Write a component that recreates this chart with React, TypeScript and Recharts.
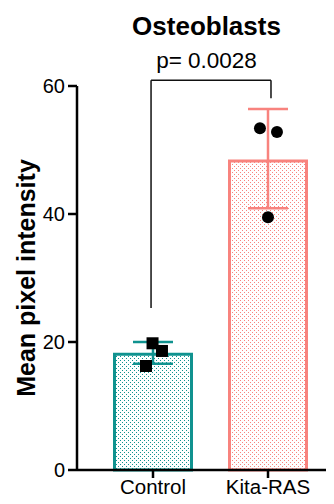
import React from 'react';
import {
  ComposedChart,
  Bar,
  ErrorBar,
  Scatter,
  XAxis,
  YAxis,
  ReferenceLine
} from 'recharts';

// Group names and bar heights (mean ± SD)
const groups = ['Control', 'Kita-RAS'];
const means = [18.1, 48.3];
const errLow = [1.5, 7.4];
const errHigh = [1.9, 8.1];

// Individual replicates (x is the jitter position on a 0..2 scale)
const controlPoints = [
  { x: 0.496, y: 19.8 },
  { x: 0.578, y: 18.6 },
  { x: 0.439, y: 16.25 }
];
const kitaPoints = [
  { x: 1.43, y: 53.4 },
  { x: 1.578, y: 52.8 },
  { x: 1.5, y: 39.5 }
];

const yTicks = [0, 20, 40, 60];

// Significance bracket
const bracketX = [0.483, 1.526];
const bracketTop = 60.9;
const bracketLegs = [25.3, 58.1];
const pLabel = 'p= 0.0028';

const TEAL = '#10928f';
const SALMON = '#f8837e';
const FONT = '"Liberation Sans", Arial, sans-serif';

const rows = groups.map((name, i) => ({
  name,
  control: i === 0 ? means[i] : undefined,
  controlErr: i === 0 ? [errLow[i], errHigh[i]] : undefined,
  kita: i === 1 ? means[i] : undefined,
  kitaErr: i === 1 ? [errLow[i], errHigh[i]] : undefined
}));

const pad = { left: 18.5, right: 8.5 };

const SquareDot = (props: any) => (
  <rect x={props.cx - 6} y={props.cy - 6} width={12} height={12} fill="#000" />
);
const RoundDot = (props: any) => (
  <circle cx={props.cx} cy={props.cy} r={6} fill="#000" />
);

const App: React.FC = () => {
  return (
    <div style={{ position: 'relative', width: 334, height: 504, margin: -8, fontFamily: FONT }}>
      <ComposedChart
        width={334}
        height={504}
        data={rows}
        margin={{ top: 86, right: 0, bottom: 0, left: 0 }}
      >
        <defs>
          <pattern id="dotsTeal" patternUnits="userSpaceOnUse" width="4" height="4">
            <rect width="4" height="4" fill="#fff" />
            <rect x="0" y="0" width="1" height="1" fill={TEAL} />
            <rect x="2" y="2" width="1" height="1" fill={TEAL} />
          </pattern>
          <pattern id="dotsSalmon" patternUnits="userSpaceOnUse" width="4" height="4">
            <rect width="4" height="4" fill="#fff" />
            <rect x="0" y="0" width="1" height="1" fill={SALMON} />
            <rect x="2" y="2" width="1" height="1" fill={SALMON} />
          </pattern>
        </defs>
        <XAxis
          xAxisId="cat"
          dataKey="name"
          type="category"
          padding={pad}
          height={34}
          axisLine={{ stroke: '#000', strokeWidth: 2.5 }}
          tickLine={{ stroke: '#000', strokeWidth: 2.5 }}
          tickSize={8}
          tickMargin={1}
          tick={{ fill: '#000', fontSize: 20.5, fontFamily: FONT }}
        />
        <XAxis
          xAxisId="num"
          dataKey="x"
          type="number"
          domain={[0, 2]}
          padding={pad}
          hide
        />
        <YAxis
          type="number"
          domain={[0, 60]}
          ticks={yTicks}
          width={77}
          axisLine={{ stroke: '#000', strokeWidth: 2.5 }}
          tickLine={{ stroke: '#000', strokeWidth: 2.5 }}
          tickSize={9}
          tickMargin={3}
          tick={{ fill: '#000', fontSize: 20, fontFamily: FONT }}
        />
        <Bar
          xAxisId="cat"
          dataKey="control"
          stackId="s"
          barSize={77}
          fill="url(#dotsTeal)"
          stroke={TEAL}
          strokeWidth={3}
          isAnimationActive={false}
        >
          <ErrorBar dataKey="controlErr" width={20} stroke={TEAL} strokeWidth={2.5} />
        </Bar>
        <Bar
          xAxisId="cat"
          dataKey="kita"
          stackId="s"
          barSize={77}
          fill="url(#dotsSalmon)"
          stroke={SALMON}
          strokeWidth={3}
          isAnimationActive={false}
        >
          <ErrorBar dataKey="kitaErr" width={20} stroke={SALMON} strokeWidth={2.5} />
        </Bar>
        <Scatter
          xAxisId="num"
          data={controlPoints}
          dataKey="y"
          shape={SquareDot}
          isAnimationActive={false}
        />
        <Scatter
          xAxisId="num"
          data={kitaPoints}
          dataKey="y"
          shape={RoundDot}
          isAnimationActive={false}
        />
        <ReferenceLine
          xAxisId="num"
          ifOverflow="visible"
          stroke="#111"
          strokeWidth={1.5}
          segment={[{ x: bracketX[0], y: bracketLegs[0] }, { x: bracketX[0], y: bracketTop }]}
        />
        <ReferenceLine
          xAxisId="num"
          ifOverflow="visible"
          stroke="#111"
          strokeWidth={1.5}
          segment={[{ x: bracketX[0], y: bracketTop }, { x: bracketX[1], y: bracketTop }]}
        />
        <ReferenceLine
          xAxisId="num"
          ifOverflow="visible"
          stroke="#111"
          strokeWidth={1.5}
          segment={[{ x: bracketX[1], y: bracketTop }, { x: bracketX[1], y: bracketLegs[1] }]}
        />
      </ComposedChart>
      <div
        style={{
          position: 'absolute',
          left: -12,
          top: -14,
          fontSize: 30,
          fontWeight: 'bold',
          lineHeight: '30px',
          color: '#000',
          fontFamily: FONT,
          zIndex: 5
        }}
      >
        D
      </div>
      <svg
        width={334}
        height={504}
        style={{ position: 'absolute', left: 0, top: 0, pointerEvents: 'none' }}
      >
        <text x={206.5} y={35} textAnchor="middle" fontSize={26} fontWeight="bold" fill="#000" fontFamily={FONT}>
          Osteoblasts
        </text>
        <text x={206.5} y={68} textAnchor="middle" fontSize={22.5} fill="#000" fontFamily={FONT}>
          {pLabel}
        </text>
        <text
          x={34.5}
          y={278}
          transform="rotate(-90 34.5 278)"
          textAnchor="middle"
          fontSize={25}
          fontWeight="bold"
          fill="#000"
          fontFamily={FONT}
        >
          Mean pixel intensity
        </text>
      </svg>
    </div>
  );
};

export default App;
